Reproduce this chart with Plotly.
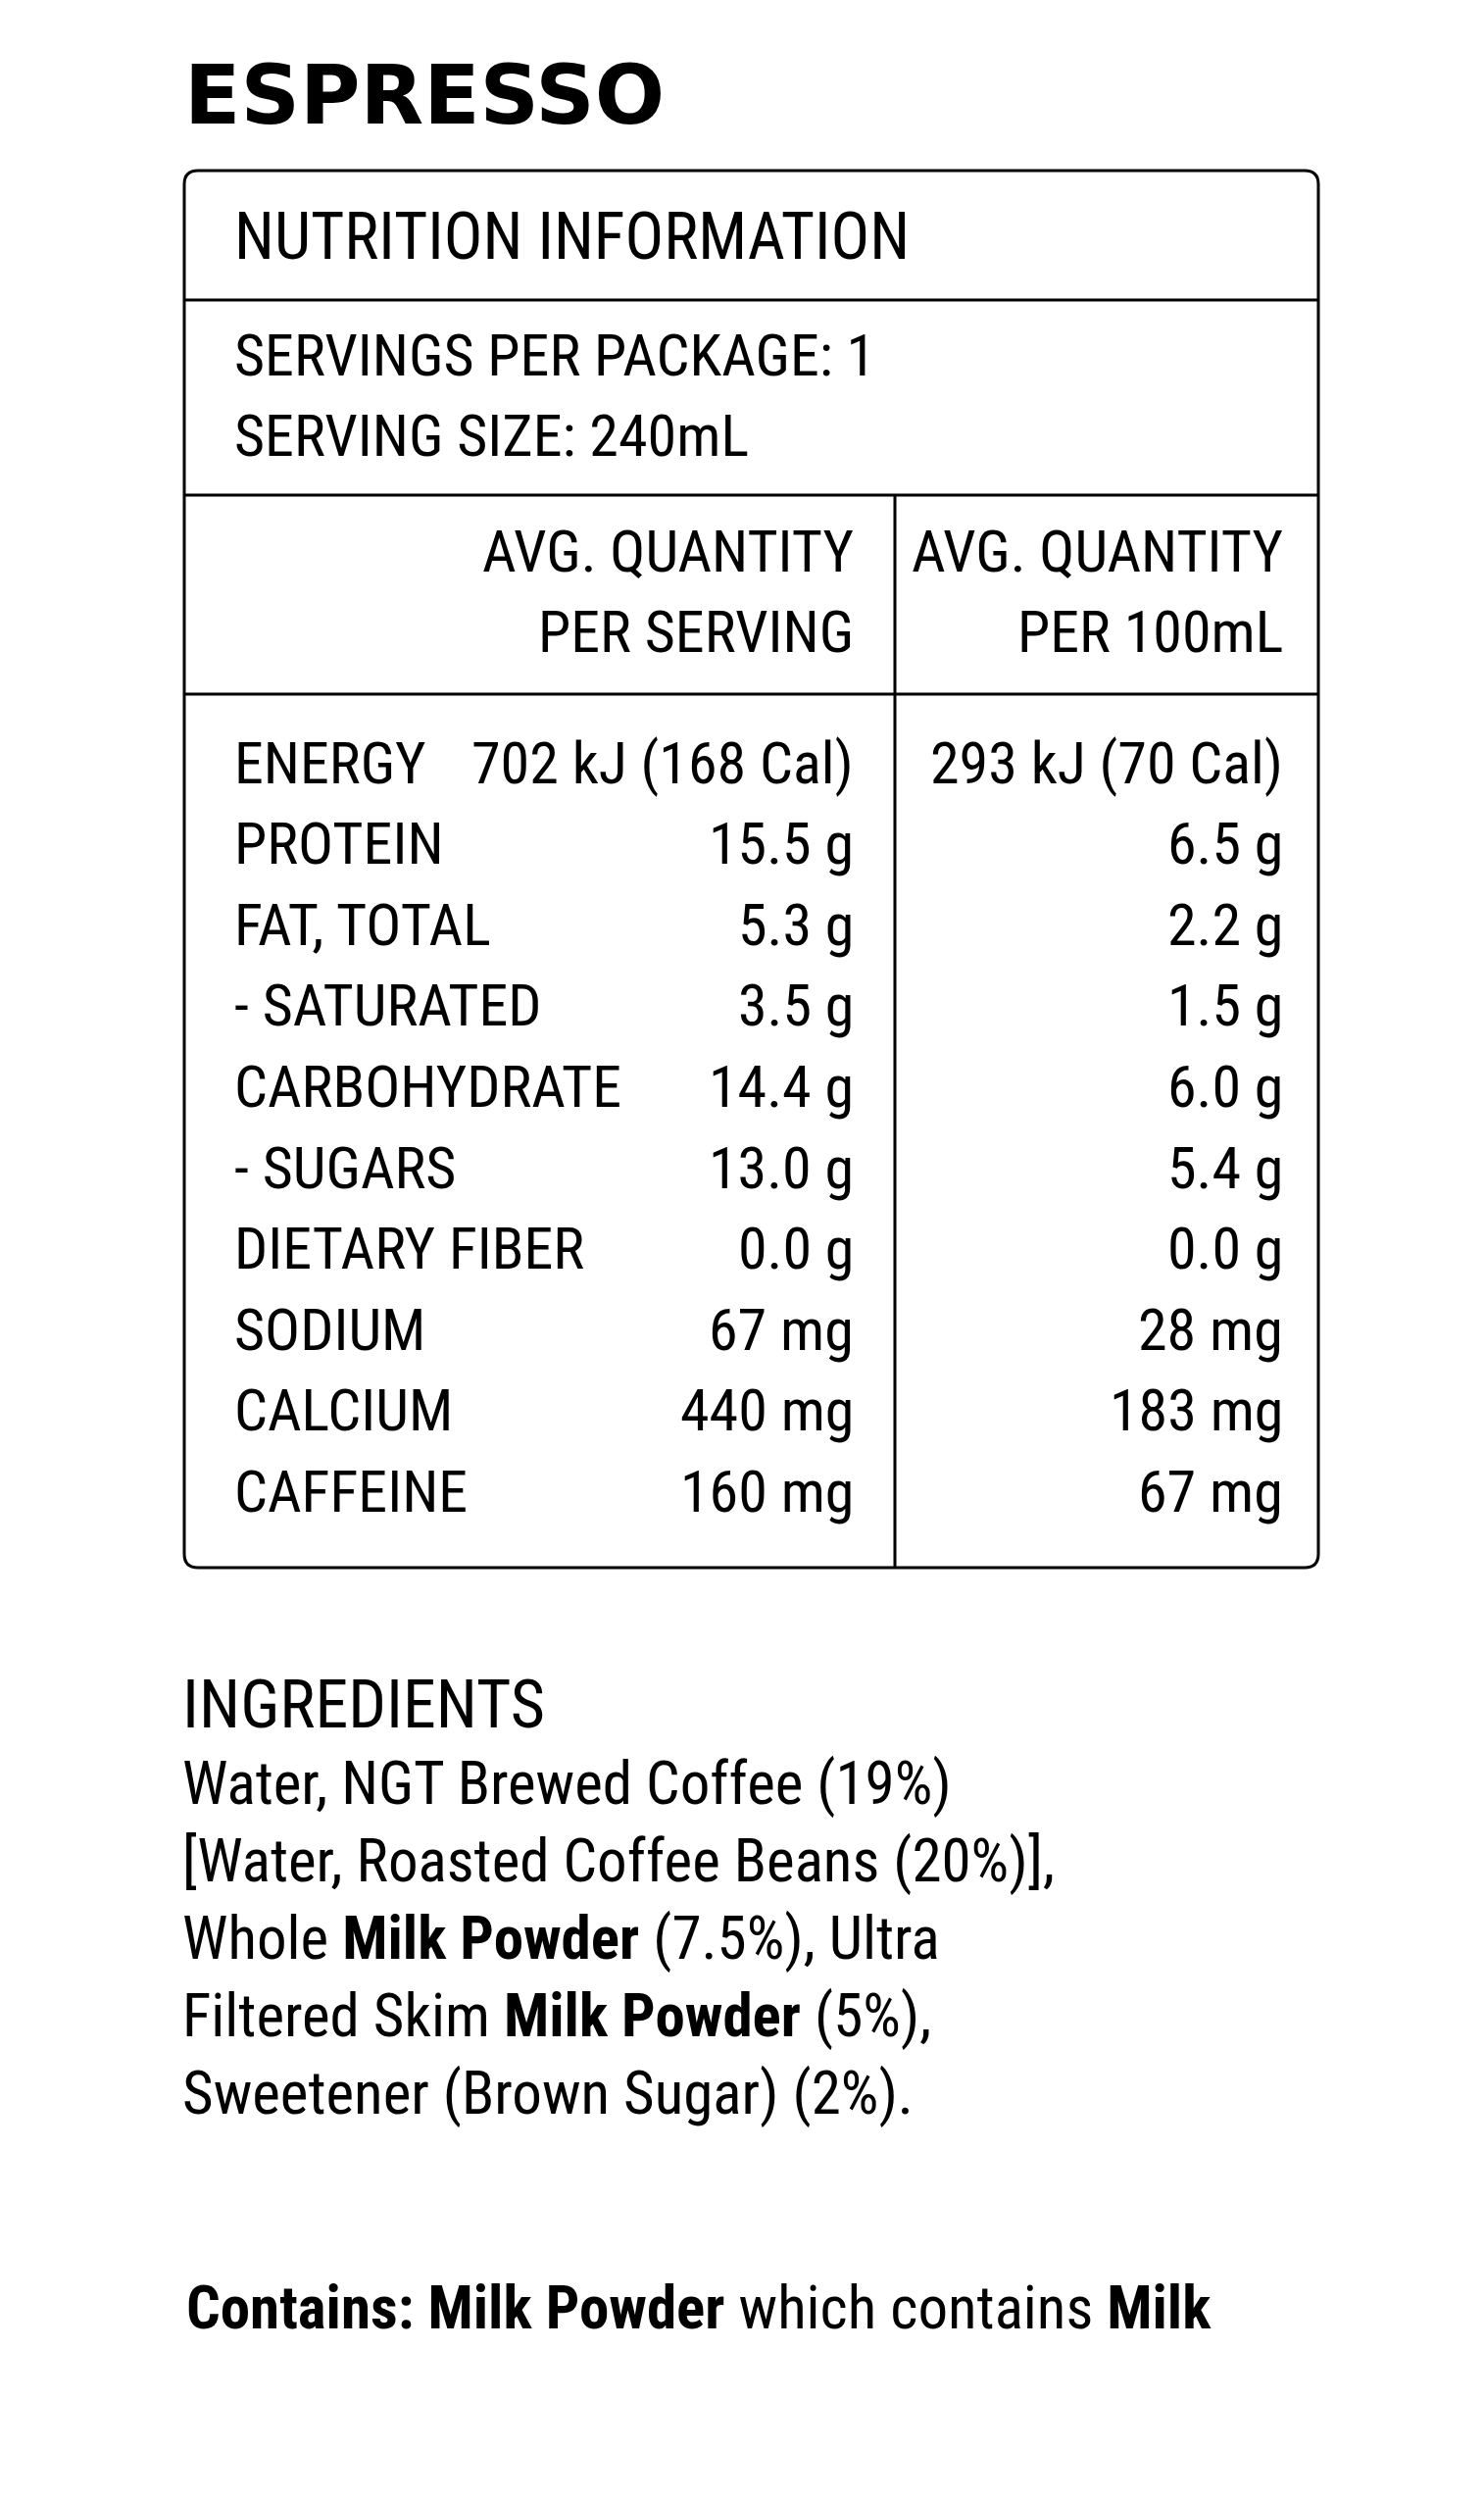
import plotly.graph_objects as go

# data
title = "ESPRESSO"
panel_title = "NUTRITION INFORMATION"
servings = ["SERVINGS PER PACKAGE: 1", "SERVING SIZE: 240mL"]
col_heads = [["AVG. QUANTITY", "PER SERVING"], ["AVG. QUANTITY", "PER 100mL"]]
nutrients = ["ENERGY", "PROTEIN", "FAT, TOTAL", "- SATURATED", "CARBOHYDRATE",
             "- SUGARS", "DIETARY FIBER", "SODIUM", "CALCIUM", "CAFFEINE"]
per_serving = ["702 kJ (168 Cal)", "15.5 g", "5.3 g", "3.5 g", "14.4 g",
               "13.0 g", "0.0 g", "67 mg", "440 mg", "160 mg"]
per_100ml = ["293 kJ (70 Cal)", "6.5 g", "2.2 g", "1.5 g", "6.0 g",
             "5.4 g", "0.0 g", "28 mg", "183 mg", "67 mg"]
ingredients = [
    "Water, NGT Brewed Coffee (19%)",
    "[Water, Roasted Coffee Beans (20%)],",
    "Whole <b>Milk Powder</b> (7.5%), Ultra",
    "Filtered Skim <b>Milk Powder</b> (5%),",
    "Sweetener (Brown Sugar) (2%).",
]
contains = "<b>Contains: Milk Powder</b> which contains <b>Milk</b>"

W, H = 1514, 2549
FONT = "Liberation Sans Narrow, Roboto Condensed, Roboto, sans-serif"
FS = 57

fig = go.Figure()
ann = []


def txt(x, y, s, anchor="left", size=FS, family=FONT):
    ann.append(dict(x=x, y=y, text=s, showarrow=False, xanchor=anchor,
                    yanchor="middle", xref="x", yref="y",
                    font=dict(family=family, size=size, color="black")))


txt(178, 89, "<b>" + title + "</b>", size=84, family="DejaVu Sans, sans-serif")

# box
L, R, T, B, r = 180, 1337, 166, 1591, 14
path = (f"M {L+r} {T} L {R-r} {T} Q {R} {T} {R} {T+r} L {R} {B-r} Q {R} {B} {R-r} {B} "
        f"L {L+r} {B} Q {L} {B} {L} {B-r} L {L} {T+r} Q {L} {T} {L+r} {T} Z")
shapes = [dict(type="path", path=path, xref="x", yref="y",
               line=dict(color="black", width=3))]
for yy in [298, 497, 700]:
    shapes.append(dict(type="line", x0=L, x1=R, y0=yy, y1=yy, xref="x", yref="y",
                       line=dict(color="black", width=3)))
shapes.append(dict(type="line", x0=905, x1=905, y0=497, y1=B, xref="x", yref="y",
                   line=dict(color="black", width=3)))

txt(229, 233, panel_title, size=66)
for i, s in enumerate(servings):
    txt(229, 354 + i * 82, s, size=60)
for c, xr in zip(col_heads, [865, 1303]):
    for i, s in enumerate(c):
        txt(xr, 554 + i * 82, s, anchor="right", size=60)

row0, step = 770, 82.6
for i, (n, a, b) in enumerate(zip(nutrients, per_serving, per_100ml)):
    y = row0 + i * step
    txt(229, y, n, size=60)
    txt(865, y, a, anchor="right", size=60)
    txt(1303, y, b, anchor="right", size=60)

txt(176, 1731, "INGREDIENTS", size=68)
for i, s in enumerate(ingredients):
    txt(176, 1811 + i * 79, s, size=61)
txt(180, 2346, contains, size=61)

fig.update_layout(
    width=W, height=H, margin=dict(l=0, r=0, t=0, b=0),
    paper_bgcolor="white", plot_bgcolor="white",
    xaxis=dict(range=[0, W], visible=False, fixedrange=True),
    yaxis=dict(range=[H, 0], visible=False, fixedrange=True),
    annotations=ann, shapes=shapes, showlegend=False,
)
fig.write_html("out.html")
